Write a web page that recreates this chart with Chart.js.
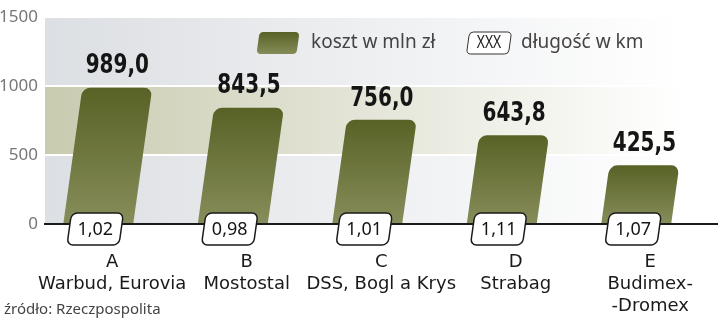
<!DOCTYPE html>
<html>
<head>
<meta charset="utf-8">
<script src="https://cdn.jsdelivr.net/npm/chart.js@4/dist/chart.umd.min.js"></script>
<style>
  html, body { margin: 0; padding: 0; background: #fff; }
  #wrap { width: 720px; height: 320px; position: relative; }
</style>
</head>
<body>
<div id="wrap"><canvas id="costChart"></canvas></div>
<script>
const categories = ['A', 'B', 'C', 'D', 'E'];
const companies = [['Warbud, Eurovia'], ['Mostostal'], ['DSS, Bogl a Krys'], ['Strabag'], ['Budimex-', '-Dromex']];
const costs = [989.0, 843.5, 756.0, 643.8, 425.5];
const costLabels = ['989,0', '843,5', '756,0', '643,8', '425,5'];
const lengths = ['1,02', '0,98', '1,01', '1,11', '1,07'];
const yTicks = [0, 500, 1000, 1500];

const SKEW = 0.14;   // bars lean to the right
const SHIFT = -14;   // bar foot sits a bit left of the category centre
const valueFont = 'bold 26px "DejaVu Sans", sans-serif';
const textFont = '"Noto Sans", "Open Sans", sans-serif';

function barGradient(ctx, top, bottom) {
    const g = ctx.createLinearGradient(0, top, 0, bottom);
    g.addColorStop(0, '#586226');
    g.addColorStop(1, '#878d5a');
    return g;
}

function skewBox(ctx, cx, cy, w, h, r) {
    ctx.save();
    ctx.translate(cx, cy);
    ctx.transform(1, 0, -SKEW, 1, 0, 0);
    ctx.beginPath();
    ctx.roundRect(-w / 2, -h / 2, w, h, r);
    ctx.restore();
}

// condensed bold numbers, squeezed horizontally
function narrowText(ctx, text, x, y) {
    ctx.save();
    ctx.translate(x, y);
    ctx.scale(0.77, 1);
    ctx.fillText(text, 0, 0);
    ctx.restore();
}

const backdrop = {
    id: 'backdrop',
    beforeDraw(chart) {
        const { ctx, chartArea: a, scales: { y } } = chart;
        ctx.save();
        ctx.fillStyle = '#fff';
        ctx.fillRect(0, 0, chart.width, chart.height);
        const bands = [[0, 500, '#dcdfe3'], [500, 1000, '#c9cbb0'], [1000, 1500, '#dcdfe3']];
        bands.forEach(([lo, hi, col]) => {
            const g = ctx.createLinearGradient(a.left, 0, a.right - 35, 0);
            g.addColorStop(0, col);
            g.addColorStop(1, '#ffffff');
            ctx.fillStyle = g;
            const top = y.getPixelForValue(hi), bot = y.getPixelForValue(lo);
            ctx.fillRect(a.left, top, a.right - a.left, bot - top);
        });
        ctx.restore();
    }
};

const slantBars = {
    id: 'slantBars',
    beforeDatasetsDraw(chart) {
        const base = chart.chartArea.bottom;
        chart.ctx.save();
        chart.ctx.transform(1, 0, -SKEW, 1, SKEW * base + SHIFT, 0);
    },
    afterDatasetsDraw(chart) {
        const { ctx, chartArea: a } = chart;
        ctx.restore();
        const base = a.bottom;
        const bars = chart.getDatasetMeta(0).data;
        ctx.save();
        bars.forEach((bar, i) => {
            // value above the bar
            const topX = bar.x + SKEW * (base - bar.y) + SHIFT;
            ctx.font = valueFont;
            ctx.fillStyle = '#151515';
            ctx.textAlign = 'center';
            ctx.textBaseline = 'middle';
            narrowText(ctx, costLabels[i], topX, bar.y - 21);

            // length box sitting on the axis
            const cx = bar.x + SHIFT - 3;
            skewBox(ctx, cx, base + 5, 52, 32, 6);
            ctx.fillStyle = '#fff';
            ctx.fill();
            ctx.lineWidth = 1.5;
            ctx.strokeStyle = '#1a1a1a';
            ctx.stroke();
            ctx.fillStyle = '#151515';
            ctx.font = '18px ' + textFont;
            ctx.fillText(lengths[i], cx, base + 6);
        });

        // legend
        skewBox(ctx, 278, 43, 40, 22, 4);
        ctx.fillStyle = barGradient(ctx, 32, 55);
        ctx.fill();
        ctx.fillStyle = '#444';
        ctx.font = '19px ' + textFont;
        ctx.textAlign = 'left';
        ctx.fillText('koszt w mln zł', 311, 43);

        skewBox(ctx, 489, 43, 42, 22, 4);
        ctx.fillStyle = '#fff';
        ctx.fill();
        ctx.lineWidth = 1;
        ctx.strokeStyle = '#333';
        ctx.stroke();
        ctx.fillStyle = '#222';
        ctx.font = '18px ' + textFont;
        ctx.textAlign = 'center';
        narrowText(ctx, 'XXX', 489, 43);
        ctx.fillStyle = '#444';
        ctx.font = '19px ' + textFont;
        ctx.textAlign = 'left';
        ctx.fillText('długość w km', 521, 43);

        // source
        ctx.fillStyle = '#444';
        ctx.font = '15px ' + textFont;
        ctx.fillText('źródło: Rzeczpospolita', 4, 310);
        ctx.restore();
    }
};

new Chart(document.getElementById('costChart'), {
    type: 'bar',
    data: {
        labels: categories.map((c, i) => [c, ...companies[i]]),
        datasets: [{
            data: costs,
            backgroundColor: (c) => {
                const area = c.chart.chartArea;
                if (!area || c.parsed === undefined) return '#6b7340';
                const top = c.chart.scales.y.getPixelForValue(c.parsed.y);
                return barGradient(c.chart.ctx, top, area.bottom);
            },
            borderRadius: { topLeft: 8, topRight: 8, bottomLeft: 0, bottomRight: 0 },
            borderSkipped: 'bottom',
            barPercentage: 0.52,
            categoryPercentage: 1,
            clip: false
        }]
    },
    options: {
        responsive: true,
        maintainAspectRatio: false,
        animation: false,
        layout: { padding: { top: 10, left: 0, right: 0, bottom: 0 } },
        plugins: {
            legend: { display: false },
            tooltip: { enabled: false }
        },
        scales: {
            x: {
                grid: { display: false, drawTicks: false },
                border: { display: true, color: '#1a1a1a', width: 2 },
                ticks: {
                    color: '#1a1a1a',
                    font: { family: '"DejaVu Sans", sans-serif', size: 18, lineHeight: 1.22 },
                    padding: 27,
                    maxRotation: 0,
                    minRotation: 0,
                    autoSkip: false
                },
                afterFit(scale) { scale.height = 96; }
            },
            y: {
                min: 0,
                max: 1500,
                afterBuildTicks(scale) { scale.ticks = yTicks.map(v => ({ value: v })); },
                grid: { color: '#ffffff', lineWidth: 2, drawTicks: false },
                border: { display: false },
                ticks: {
                    color: '#777',
                    font: { family: textFont, size: 17 },
                    padding: 7,
                    callback: (v) => String(v)
                },
                afterFit(scale) { scale.width = 45; }
            }
        }
    },
    plugins: [backdrop, slantBars]
});
</script>
</body>
</html>
